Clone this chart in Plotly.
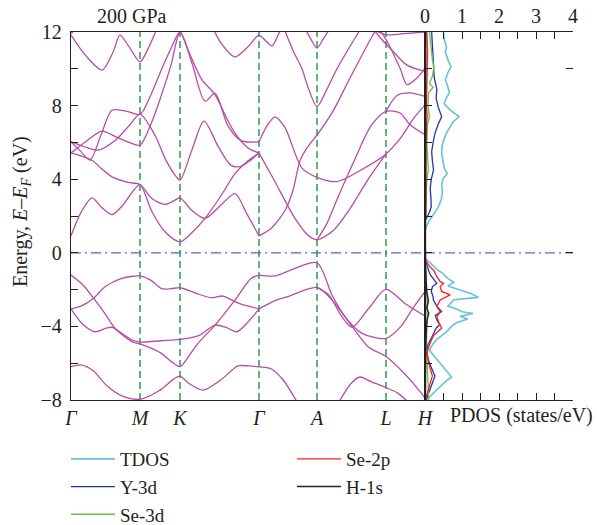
import plotly.graph_objects as go

# ---------------- data ----------------
HSYM_K = [0, 69, 109, 188, 246, 315, 354]
HSYM_LABELS = ["Γ", "M", "K", "Γ", "A", "L", "H"]

# band structure: (k, E) nodes of each band, E in eV
BAND_C1 = [(0, 0.92), (10, 2.2), (21, 2.99), (31, 2.45), (41, 2.08), (52, 2.6), (62, 3.35), (69, 3.71),
           (81, 2.23), (94, 1.14), (109, 0.6), (121, 1.1), (134, 1.87), (150, 3.1), (164, 4.3), (177, 5.0), (188, 5.43)]
BAND_C2 = [(0, 5.43), (21, 5.03), (30, 4.6), (41, 4.13), (57, 3.83), (69, 3.71), (81, 2.95), (94, 2.63),
           (104, 2.86), (109, 2.99), (121, 2.3), (134, 1.87), (150, 2.6), (164, 3.22), (176, 2.1), (188, 0.92)]
BAND_C3 = [(0, 6.03), (14, 5.75), (27, 5.58), (45, 6.15), (58, 6.9), (69, 7.52), (84, 6.39), (94, 5.13),
           (104, 4.22), (109, 3.95), (121, 5.6), (133, 7.16), (147, 5.8), (160, 4.75), (170, 4.7), (180, 5.05), (188, 5.43)]
BAND_C4 = [(0, 6.03), (10, 5.5), (19, 5.04), (30, 6.4), (41, 7.75), (55, 7.7), (69, 7.52), (80, 8.6),
           (90, 9.9), (100, 11.1), (109, 12.0), (121, 10.3), (134, 8.24), (144, 8.66), (157, 6.9), (170, 6.1), (188, 6.03)]
BAND_C5 = [(0, 5.43), (15, 6.05), (31, 6.61), (45, 6.3), (58, 6.0), (69, 5.85), (80, 7.0), (90, 8.5),
           (100, 10.2), (109, 12.0), (118, 10.9), (131, 9.4), (144, 8.6), (154, 7.5), (164, 6.5), (177, 5.7), (188, 5.43)]
BAND_C6 = [(0, 11.83), (15, 10.7), (31, 9.93), (42, 10.9), (49, 11.83), (58, 11.2), (69, 10.38), (78, 11.2), (86, 12.2)]
BAND_C7 = [(0, 11.9), (5, 12.2)]
BAND_C8 = [(142, 12.2), (150, 11.4), (164, 10.65), (177, 11.2), (188, 11.83), (195, 11.5), (201, 11.25), (206, 11.7), (210, 12.2)]

BAND_R1 = [(188, 0.92), (200, 1.32), (214, 2.3), (222, 3.4), (229, 5.0), (236, 5.7), (246, 6.4), (262, 7.7),
           (279, 9.5), (302, 11.85), (306, 12.2)]
BAND_R2 = [(188, 5.43), (204, 3.86), (224, 1.87), (237, 0.95), (246, 0.71), (262, 1.2), (279, 2.4), (296, 3.9), (315, 5.37)]
BAND_R3 = [(246, 0.71), (256, 1.6), (266, 2.9), (284, 5.1), (300, 6.9), (315, 7.69), (329, 7.6), (339, 6.96), (354, 6.42)]
BAND_R4 = [(188, 6.03), (196, 6.9), (204, 7.39), (214, 6.8), (231, 4.6), (246, 4.1), (266, 3.87), (290, 4.5),
           (315, 5.37), (329, 6.2), (343, 7.33), (354, 8.04)]
BAND_R5 = [(213, 12.2), (222, 11.0), (231, 10.0), (237, 9.0), (246, 7.95), (256, 8.9), (266, 10.0), (286, 11.85), (290, 12.2)]
BAND_R6 = [(315, 7.69), (326, 8.55), (339, 8.69), (354, 8.5)]
BAND_R7 = [(234, 12.2), (240, 11.6), (246, 11.13), (252, 11.6), (259, 12.2)]
BAND_R8 = [(302, 12.2), (309, 11.7), (322, 10.95), (336, 10.2), (354, 9.86)]
BAND_R9 = [(308, 12.2), (316, 11.5), (329, 10.04), (336, 9.14), (346, 9.5), (354, 10.04)]
BAND_R10 = [(300, 12.2), (315, 11.85), (330, 11.9), (354, 12.0)]

BAND_V1 = [(0, -1.21), (12, -1.75), (24, -2.57), (34, -3.3), (44, -4.1), (61, -4.83), (69, -4.95), (90, -5.45),
           (100, -5.9), (109, -6.19), (118, -5.6), (127, -4.92), (144, -3.93), (164, -2.57), (180, -1.4), (188, -1.21)]
BAND_V2 = [(0, -3.05), (10, -2.9), (22, -2.5), (34, -1.85), (50, -1.4), (69, -1.26), (80, -1.5), (91, -1.95),
           (100, -1.95), (109, -1.9), (125, -2.2), (140, -2.44), (152, -2.35), (168, -2.75), (188, -3.05)]
BAND_V3 = [(0, -3.05), (12, -3.9), (24, -4.29), (35, -4.1), (41, -4.05), (50, -4.35), (61, -4.74), (69, -4.85),
           (90, -4.78), (109, -4.71), (127, -4.52), (144, -3.93), (155, -4.05), (166, -4.29), (178, -3.7), (188, -3.05)]
BAND_V4 = [(0, -6.19), (11, -6.1), (22, -6.4), (37, -7.28), (52, -7.8), (69, -7.96), (88, -7.5), (103, -6.85),
           (109, -6.7), (118, -7.1), (132, -7.46), (150, -6.9), (167, -6.15), (178, -6.15), (188, -6.2)]
BAND_VR1 = [(188, -1.21), (204, -1.26), (224, -0.84), (246, -0.54), (261, -2.29), (274, -3.47), (291, -4.38),
            (315, -4.65), (330, -4.0), (342, -3.0), (354, -2.11)]
BAND_VR2 = [(188, -3.05), (204, -2.6), (217, -2.38), (246, -1.88), (261, -2.56), (281, -4.0), (297, -5.1),
            (315, -5.64), (334, -6.6), (350, -7.6), (354, -7.9)]
BAND_VR3 = [(246, -1.88), (258, -2.3), (270, -3.4), (281, -4.05), (298, -3.0), (315, -1.99), (335, -2.8), (354, -3.43)]
BAND_VR4 = [(188, -6.2), (200, -6.3), (212, -6.9), (226, -8.1)]
BAND_VR5 = [(268, -8.1), (280, -7.1), (289, -6.75), (300, -7.0), (315, -7.33), (326, -7.6), (337, -8.1)]

BANDS = [BAND_C1, BAND_C2, BAND_C3, BAND_C4, BAND_C5, BAND_C6, BAND_C7, BAND_C8,
         BAND_R1, BAND_R2, BAND_R3, BAND_R4, BAND_R5, BAND_R6, BAND_R7, BAND_R8, BAND_R9, BAND_R10,
         BAND_V1, BAND_V2, BAND_V3, BAND_V4, BAND_VR1, BAND_VR2, BAND_VR3, BAND_VR4, BAND_VR5]

# PDOS: (E, states/eV)
TDOS = [(12.0, 0.50), (11.6, 0.52), (11.2, 0.58), (10.9, 0.55), (10.5, 0.62), (10.1, 0.70), (9.8, 0.62), (9.4, 0.55),
        (9.0, 0.62), (8.7, 0.66), (8.4, 0.57), (8.1, 0.52), (7.8, 0.66), (7.4, 0.92), (7.1, 0.75), (6.8, 0.66),
        (6.5, 0.58), (6.1, 0.50), (5.8, 0.46), (5.4, 0.45), (5.0, 0.48), (4.6, 0.52), (4.3, 0.60), (4.0, 0.48),
        (3.7, 0.45), (3.3, 0.47), (2.9, 0.44), (2.5, 0.36), (2.2, 0.27), (1.95, 0.18), (1.7, 0.10), (1.45, 0.04),
        (1.2, 0.0), (-0.25, 0.0), (-0.35, 0.03), (-0.6, 0.17), (-0.9, 0.32), (-1.1, 0.47), (-1.4, 0.62), (-1.6, 0.78),
        (-1.8, 0.62), (-2.0, 0.90), (-2.2, 1.22), (-2.42, 1.44), (-2.55, 0.78), (-2.9, 0.62), (-3.05, 0.85),
        (-3.2, 1.00), (-3.3, 1.30), (-3.45, 0.95), (-3.6, 1.15), (-3.8, 0.85), (-4.0, 0.72), (-4.3, 0.58),
        (-4.7, 0.32), (-5.0, 0.20), (-5.3, 0.12), (-5.6, 0.24), (-5.9, 0.36), (-6.2, 0.50), (-6.5, 0.62),
        (-6.75, 0.72), (-7.0, 0.55), (-7.3, 0.40), (-7.6, 0.25), (-7.9, 0.08), (-8.0, 0.03)]
Y3D = [(12.0, 0.18), (11.0, 0.20), (10.1, 0.23), (9.5, 0.25), (8.9, 0.32), (8.4, 0.30), (7.9, 0.36), (7.4, 0.45),
       (7.0, 0.36), (6.5, 0.27), (6.0, 0.22), (5.5, 0.18), (5.0, 0.20), (4.5, 0.23), (4.0, 0.17), (3.5, 0.14),
       (3.0, 0.16), (2.5, 0.17), (2.2, 0.12), (1.95, 0.05), (1.7, 0.0), (-0.35, 0.0), (-0.7, 0.05), (-1.1, 0.12),
       (-1.3, 0.18), (-1.66, 0.32), (-1.85, 0.20), (-2.1, 0.17), (-2.4, 0.22), (-2.6, 0.23), (-2.9, 0.32),
       (-3.2, 0.45), (-3.4, 0.28), (-3.65, 0.32), (-3.9, 0.40), (-4.1, 0.30), (-4.6, 0.18), (-5.0, 0.08),
       (-5.45, 0.04), (-6.0, 0.12), (-6.7, 0.27), (-7.1, 0.20), (-7.6, 0.10), (-8.0, 0.03)]
SE3D = [(12.0, 0.12), (11.5, 0.14), (11.0, 0.17), (10.5, 0.20), (10.1, 0.24), (9.6, 0.20), (9.2, 0.12), (9.0, 0.22),
        (8.7, 0.10), (8.0, 0.08), (7.4, 0.12), (7.0, 0.07), (6.0, 0.05), (5.0, 0.08), (4.5, 0.09), (4.0, 0.05),
        (3.0, 0.04), (2.0, 0.02), (1.5, 0.0), (-0.5, 0.0), (-1.0, 0.03), (-2.0, 0.05), (-3.0, 0.06), (-4.0, 0.05),
        (-5.0, 0.04), (-6.0, 0.06), (-7.0, 0.08), (-8.0, 0.10)]
SE2P = [(12.0, 0.05), (11.0, 0.07), (10.0, 0.06), (9.0, 0.05), (8.0, 0.04), (7.4, 0.06), (7.0, 0.04), (6.0, 0.03),
        (5.0, 0.03), (4.0, 0.03), (3.0, 0.02), (2.0, 0.02), (1.5, 0.0), (-0.3, 0.0), (-0.4, 0.02), (-0.66, 0.09),
        (-1.0, 0.25), (-1.3, 0.32), (-1.57, 0.41), (-1.66, 0.50), (-1.84, 0.41), (-2.1, 0.45), (-2.29, 0.68),
        (-2.56, 0.41), (-2.93, 0.32), (-3.2, 0.41), (-3.5, 0.32), (-3.8, 0.38), (-4.1, 0.45), (-4.5, 0.23),
        (-5.0, 0.12), (-5.4, 0.06), (-6.0, 0.10), (-6.7, 0.20), (-7.2, 0.12), (-7.7, 0.05), (-8.0, 0.02)]
H1S = [(12.0, 0.02), (8.0, 0.02), (4.0, 0.02), (1.5, 0.0), (-0.5, 0.01), (-2.0, 0.04), (-2.6, 0.09), (-3.0, 0.05),
       (-3.3, 0.10), (-3.6, 0.06), (-4.0, 0.04), (-5.0, 0.02), (-8.0, 0.01)]

PDOS_SERIES = [("TDOS", TDOS, "#63c3d9", 1.6, "legend", 1),
               ("Y-3d", Y3D, "#2338a8", 1.3, "legend", 2),
               ("Se-3d", SE3D, "#6dbf4b", 1.3, "legend", 3),
               ("Se-2p", SE2P, "#ff1f1f", 1.3, "legend2", 1),
               ("H-1s", H1S, "#222222", 1.5, "legend2", 2)]

E_RANGE = [-8, 12]
DOS_RANGE = [0, 4]

# ---------------- figure ----------------
W, H = 597, 525
BAND_COLOR = "#b64ca8"
FONT = "Liberation Serif"

fig = go.Figure()

for kv in HSYM_K[1:-1]:
    fig.add_trace(go.Scatter(x=[kv, kv], y=E_RANGE, mode="lines", showlegend=False, hoverinfo="skip",
                             line=dict(color="#2f9a4c", width=1.5, dash="7px,4px"), xaxis="x", yaxis="y"))

for b in BANDS:
    fig.add_trace(go.Scatter(x=[p[0] for p in b], y=[p[1] for p in b], mode="lines", showlegend=False,
                             line=dict(color=BAND_COLOR, width=1.3, shape="spline", smoothing=0.8),
                             xaxis="x", yaxis="y"))

fig.add_trace(go.Scatter(x=[HSYM_K[0], HSYM_K[-1]], y=[0, 0], mode="lines", showlegend=False,
                         line=dict(color="#4a6cc2", width=1.3, dash="10px,4px,2px,4px"), xaxis="x", yaxis="y"))
fig.add_trace(go.Scatter(x=DOS_RANGE, y=[0, 0], mode="lines", showlegend=False,
                         line=dict(color="#4a6cc2", width=1.3, dash="10px,4px,2px,4px"), xaxis="x2", yaxis="y2"))

for name, data, color, width, lg, rank in PDOS_SERIES:
    fig.add_trace(go.Scatter(x=[p[1] for p in data], y=[p[0] for p in data], mode="lines", name=name,
                             line=dict(color=color, width=width), xaxis="x2", yaxis="y2",
                             legend=lg, legendrank=rank, legendgroup=name))

fig.add_trace(go.Scatter(x=[0], y=[0], mode="lines", showlegend=False, hoverinfo="skip",
                         xaxis="x2", yaxis="y3", line=dict(width=0)))

x0, x1, x2 = 71 / W, 425 / W, 573 / W
yb, yt = 1 - 400 / H, 1 - 32 / H
AX = dict(showline=True, linecolor="#231f20", linewidth=1.3, showgrid=False, zeroline=False,
          tickcolor="#231f20", tickfont=dict(family=FONT, size=20, color="#231f20"))
LEG = dict(yanchor="top", xanchor="left", bgcolor="rgba(0,0,0,0)", itemwidth=44,
           font=dict(family=FONT, size=19, color="#231f20"), tracegroupgap=0)

fig.update_layout(
    width=W, height=H, margin=dict(l=0, r=0, t=0, b=0, autoexpand=False),
    paper_bgcolor="white", plot_bgcolor="white",
    font=dict(family=FONT, size=20, color="#231f20"),
    xaxis=dict(AX, domain=[x0, x1], range=[HSYM_K[0], HSYM_K[-1]], anchor="y", mirror=True,
               tickmode="array", tickvals=HSYM_K, ticktext=["<i>%s</i>" % t for t in HSYM_LABELS], ticks=""),
    yaxis=dict(AX, domain=[yb, yt], range=E_RANGE, anchor="x", mirror=True, ticks="inside", ticklen=7,
               tickmode="linear", tick0=0, dtick=4, ticklabelstandoff=4,
               minor=dict(dtick=2, tick0=0, ticks="inside", ticklen=7, tickcolor="#231f20", showgrid=False)),
    xaxis2=dict(AX, domain=[x1, x2], range=DOS_RANGE, anchor="y2", side="top", mirror="ticks", ticks="inside",
                ticklen=7, tickmode="linear", tick0=0, dtick=1,
                minor=dict(dtick=0.5, tick0=0, ticks="inside", ticklen=7, tickcolor="#231f20", showgrid=False)),
    yaxis2=dict(AX, domain=[yb, yt], range=E_RANGE, anchor="x2", ticks="inside", ticklen=7, tickmode="linear",
                tick0=0, dtick=2, showticklabels=False),
    yaxis3=dict(AX, range=E_RANGE, anchor="x2", overlaying="y2", side="right", ticks="inside", ticklen=7,
                tickmode="linear", tick0=0, dtick=10, showticklabels=False, showline=False),
    legend=dict(LEG, x=66 / W, y=1 - 440 / H),
    legend2=dict(LEG, x=292 / W, y=1 - 440 / H),
    annotations=[
        dict(text="200 GPa", x=132 / W, y=1 - 16 / H, xref="paper", yref="paper", showarrow=False,
             xanchor="center", yanchor="middle", font=dict(family=FONT, size=20, color="#231f20")),
        dict(text="Energy, <i>E</i>–<i>E</i><sub><i>F</i></sub> (eV)", x=21 / W, y=1 - 212 / H, xref="paper",
             yref="paper", showarrow=False, textangle=-90, xanchor="center", yanchor="middle",
             font=dict(family=FONT, size=20, color="#231f20")),
        dict(text="PDOS (states/eV)", x=521 / W, y=1 - 415 / H, xref="paper", yref="paper", showarrow=False,
             xanchor="center", yanchor="middle", font=dict(family=FONT, size=20, color="#231f20")),
    ],
)

fig.write_html("out.html")
